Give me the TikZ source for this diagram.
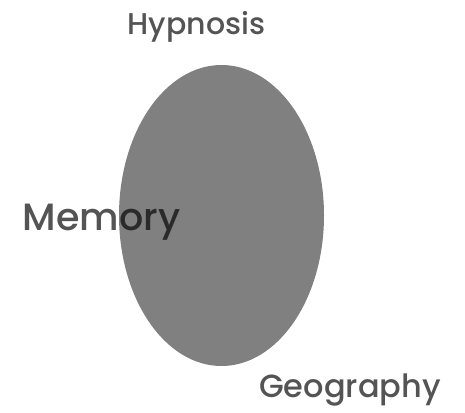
\documentclass[tikz,border=0pt]{standalone}
\usepackage{fontspec}
\setmainfont{Poppins Medium}
\usepackage{xcolor}
\usetikzlibrary{shapes.geometric}
\definecolor{blobgray}{RGB}{128,128,128}

\begin{document}
\begin{tikzpicture}[x=1pt, y=-1pt]
\tikzstyle{blob}=[ellipse, fill=blobgray, inner sep=0pt, minimum width=205pt, minimum height=301pt]
\tikzstyle{lbl}=[anchor=base, inner sep=0pt, text=black, text opacity=0.67, font=\fontsize{30}{34}\selectfont]
\useasboundingbox (0,0) rectangle (465,412);
\node[blob] (set) at (221.5,215.5) {};
\node[lbl] (hypnosis) at (196.5,35) {Hypnosis};
\node[lbl, font=\fontsize{38}{42}\selectfont] (memory) at (101.5,230) {Memory};
\node[lbl, font=\fontsize{32}{36}\selectfont] (geography) at (350,397) {Geography};
\end{tikzpicture}
\end{document}
